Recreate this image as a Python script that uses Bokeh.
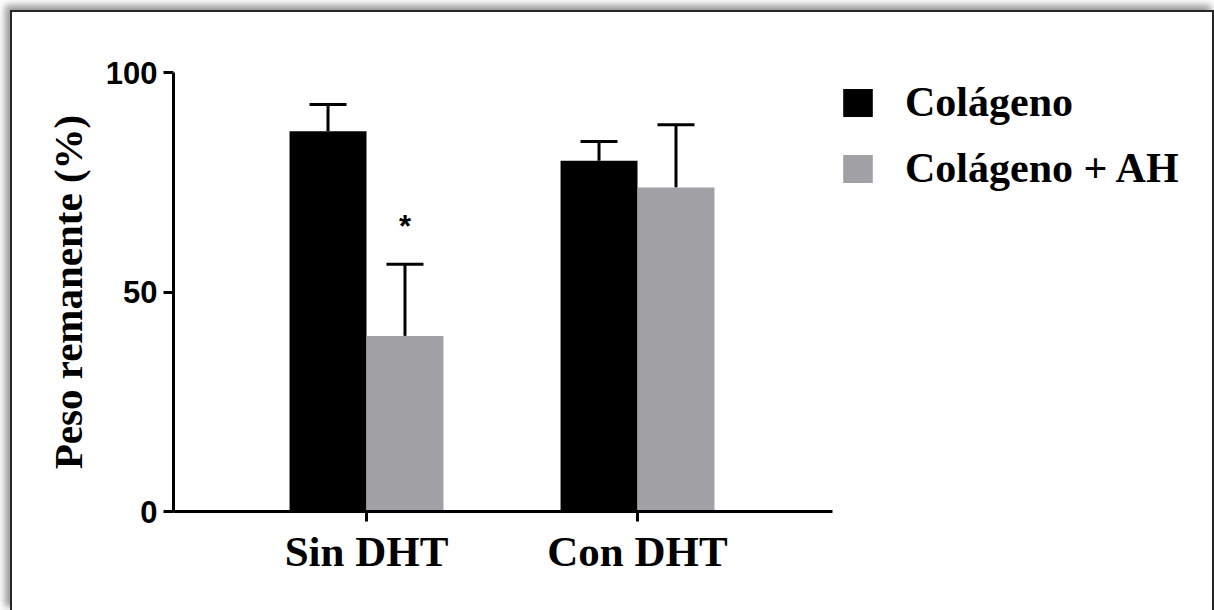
from bokeh.plotting import figure
from bokeh.models import (Range1d, FixedTicker, Whisker, TeeHead, ColumnDataSource,
                          Legend, LegendItem)
from bokeh.core.properties import value
from bokeh.embed import file_html
from bokeh.resources import INLINE

# ---- data ----
groups = ["Sin DHT", "Con DHT"]
series = ["Colágeno", "Colágeno + AH"]
colageno = [86.6, 79.9]
colageno_err = [6.1, 4.4]
colageno_ah = [40.0, 73.8]
colageno_ah_err = [16.3, 14.3]
sig_text = ["*"]
sig_group = [0]
sig_y = [65.0]
y_ticks = [0, 50, 100]

colors = ["#000000", "#a1a0a4"]
SERIF = "Liberation Serif"
SANS = "Liberation Sans"

idx = list(range(len(groups)))
off = 0.142
bw = 0.284
x_axis_extent = (-0.7122, 1.7196)

p = figure(width=1204, height=600, output_backend="svg", toolbar_location=None,
           x_range=Range1d(-0.7122, 3.1365), y_range=Range1d(0, 100),
           min_border_left=161, min_border_right=0, min_border_top=60,
           min_border_bottom=101)
p.styles = {"margin-left": "10px", "margin-top": "10px",
            "border-left": "2px solid #262626", "border-top": "2px solid #262626",
            "border-right": "2px solid #262626",
            "box-shadow": "-4px -4px 7px 1px #9a9a9a"}
p.outline_line_color = None
p.xgrid.visible = False
p.ygrid.visible = False
p.background_fill_color = "white"
p.border_fill_color = "white"

src1 = ColumnDataSource(dict(x=[i - off for i in idx], top=colageno,
                             up=[v + e for v, e in zip(colageno, colageno_err)]))
src2 = ColumnDataSource(dict(x=[i + off for i in idx], top=colageno_ah,
                             up=[v + e for v, e in zip(colageno_ah, colageno_ah_err)]))

r1 = p.vbar(x="x", top="top", width=bw, source=src1, fill_color=colors[0], line_color=None)
r2 = p.vbar(x="x", top="top", width=bw, source=src2, fill_color=colors[1], line_color=None)

for src in (src1, src2):
    w = Whisker(base="x", lower="top", upper="up", source=src, dimension="height",
                line_width=3, line_color="black", lower_head=None,
                upper_head=TeeHead(size=37, line_width=3, line_color="black"))
    p.add_layout(w)

p.text(x=[sig_group[0] + off], y=sig_y, text=sig_text, text_font=value(SANS),
       text_font_style="bold", text_font_size="31px", text_align="center",
       text_baseline="middle", text_color="black")

# axes
for ax in (p.xaxis[0], p.yaxis[0]):
    ax.axis_line_width = 3
    ax.axis_line_color = "black"
    ax.major_tick_line_width = 3
    ax.major_tick_line_color = "black"
    ax.major_tick_in = 0
    ax.major_tick_out = 10
    ax.minor_tick_line_color = None

p.yaxis.ticker = FixedTicker(ticks=y_ticks)
p.yaxis.major_label_text_font = SANS
p.yaxis.major_label_text_font_style = "bold"
p.yaxis.major_label_text_font_size = "31px"
p.yaxis.major_label_text_color = "black"
p.yaxis.major_label_standoff = 6
p.yaxis.axis_label = "Peso remanente (%)"
p.yaxis.axis_label_text_font = SERIF
p.yaxis.axis_label_text_font_style = "bold"
p.yaxis.axis_label_text_font_size = "41px"
p.yaxis.axis_label_text_color = "black"
p.yaxis.axis_label_standoff = 12

p.xaxis.bounds = x_axis_extent
p.xaxis.ticker = FixedTicker(ticks=idx)
p.xaxis.major_label_overrides = {i: g for i, g in zip(idx, groups)}
p.xaxis.major_label_text_font = SERIF
p.xaxis.major_label_text_font_style = "bold"
p.xaxis.major_label_text_font_size = "43px"
p.xaxis.major_label_text_color = "black"
p.xaxis.major_label_standoff = 6

legend = Legend(items=[LegendItem(label=series[0], renderers=[r1]),
                       LegendItem(label=series[1], renderers=[r2])],
                location=(666, 319), glyph_width=37, glyph_height=35,
                label_standoff=29, spacing=18, padding=0, margin=0,
                label_text_font=SERIF, label_text_font_style="bold",
                label_text_font_size="42px", label_text_color="black",
                background_fill_alpha=0, border_line_color=None)
p.add_layout(legend, "center")

open("out.html", "w").write(file_html(p, INLINE))
